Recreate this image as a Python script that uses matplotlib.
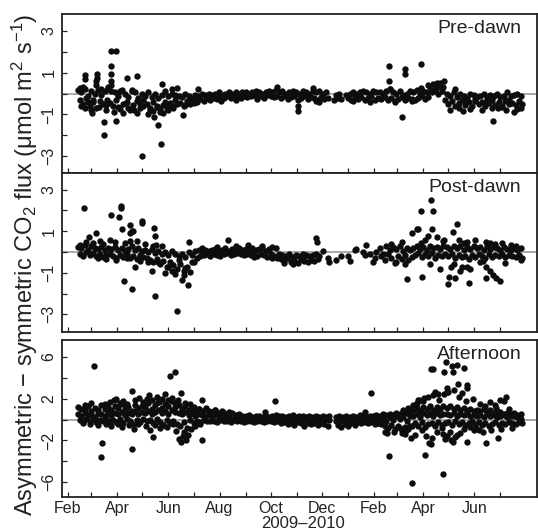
import numpy as np
import matplotlib
matplotlib.use("Agg")
import matplotlib.pyplot as plt

plt.rcParams['font.family'] = ['Liberation Sans', 'DejaVu Sans']
plt.rcParams['mathtext.fontset'] = 'custom'
plt.rcParams['mathtext.rm'] = 'Liberation Sans'
plt.rcParams['mathtext.it'] = 'Liberation Sans:italic'
plt.rcParams['mathtext.default'] = 'regular'
plt.rcParams['axes.unicode_minus'] = True

nan = np.nan
BASE = np.datetime64('2009-02-01')

# ---------------- data (day offsets since 2009-02-01, flux differences) -------------
# upper/lower/middle parts of the dense band, one value every 4 days
hi_days = list(range(12, 541, 4))
lo_days = list(range(14, 543, 4))

predawn_hi = [
    0.15, 0.05, 0.2, -0.1, 0.1, 0.0, 0.15, -0.05, 0.1, 0.2,
    0.1, 0.05, -0.1, 0.15, 0.0, -0.15, 0.1, 0.05, -0.2, 0.0,
    -0.1, 0.05, -0.15, 0.0, -0.2, -0.05, 0.1, -0.1, 0.0, -0.05,
    -0.1, -0.15, 0.0, -0.1, -0.2, -0.05, -0.1, 0.0, -0.05, 0.0,
    -0.05, 0.0, 0.05, -0.05, 0.0, 0.05, 0.0, 0.05, 0.0, 0.05,
    0.05, 0.0, 0.05, 0.1, 0.05, 0.0, 0.05, 0.1, 0.05, 0.15,
    0.05, 0.1, 0.0, 0.05, 0.1, 0.05, 0.0, 0.1, 0.05, 0.0,
    0.1, 0.05, 0.1, 0.0, 0.05, nan, nan, -0.05, 0.0, nan,
    -0.05, 0.0, 0.05, 0.0, 0.05, 0.1, 0.05, 0.0, 0.1, 0.05,
    0.05, 0.0, 0.1, 0.2, 0.05, 0.0, 0.1, -0.05, 0.0, 0.1,
    0.05, 0.15, 0.0, 0.1, 0.05, 0.3, 0.45, 0.35, 0.5, 0.3,
    0.0, -0.1, 0.05, -0.15, 0.0, -0.1, -0.2, 0.0, -0.05, -0.15,
    -0.1, 0.0, -0.2, -0.05, -0.1, 0.0, -0.15, -0.1, 0.05, -0.1,
    -0.05, 0.0, -0.1]
predawn_lo = [
    -0.3, -0.5, -0.2, -0.6, -0.4, -0.7, -0.35, -0.5, -0.8, -0.45,
    -0.6, -0.3, -0.75, -0.5, -0.4, -0.8, -0.55, -0.35, -0.7, -0.6,
    -0.5, -0.8, -0.4, -0.65, -0.9, -0.55, -0.7, -0.45, -0.6, -0.5,
    -0.45, -0.6, -0.35, -0.5, -0.3, -0.4, -0.25, -0.35, -0.2, -0.3,
    -0.2, -0.25, -0.15, -0.2, -0.1, -0.2, -0.15, -0.1, -0.2, -0.1,
    -0.15, -0.1, -0.05, -0.15, -0.1, -0.2, -0.05, -0.1, -0.15, -0.1,
    -0.2, -0.1, -0.25, -0.15, -0.1, -0.3, -0.2, -0.1, -0.25, -0.15,
    -0.2, -0.3, -0.15, -0.25, -0.2, nan, -0.3, -0.2, -0.25, nan,
    -0.2, -0.3, -0.1, -0.25, -0.15, -0.3, -0.2, -0.1, -0.3, -0.2,
    -0.25, -0.15, -0.3, -0.2, -0.35, -0.25, -0.15, -0.3, -0.2, -0.25,
    -0.3, -0.2, -0.1, -0.25, -0.15, 0.05, 0.15, 0.0, 0.1, -0.3,
    -0.5, -0.35, -0.6, -0.45, -0.3, -0.55, -0.4, -0.6, -0.35, -0.5,
    -0.4, -0.6, -0.45, -0.3, -0.55, -0.4, -0.65, -0.35, -0.5, -0.45,
    -0.55, -0.35, -0.5]
predawn_x_days = [
    21, 21, 29, 35, 35, 34, 34, 43, 43, 52, 52, 52, 52, 52, 58, 57, 70, 76, 83, 82,
    88, 103, 108, 111, 112, 124, 130, 137, 155, 249, 275, 275, 292, 383, 383, 384,
    398, 402, 402, 421, 421, 440, 449, 462, 471, 507, 513, 523, 532, 536,
    16, 20, 24, 27, 30, 37, 45, 47, 55, 60, 62, 66, 69, 72, 79, 86, 90, 95, 98, 102,
    106, 110, 113, 116, 119, 121, 126, 128, 140, 145, 150, 48, 40, 14, 18,
    456, 466, 474, 480, 486, 494, 500, 506, 518, 526, 540, 183, 200, 226, 296, 300,
    340, 360, 390, 410, 438, 444, 430]
predawn_x_vals = [
    0.9, 0.7, -0.93, 0.95, 0.75, 0.6, 0.4, -1.35, -2.0, 1.3, 0.95, 0.6, 0.4, 2.05, 2.05,
    -1.3, 0.75, 0.15, 0.85, -0.95, -3.0, -1.1, -1.5, -2.4, 0.45, 0.2, 0.25, -1.05, 0.2,
    0.3, -0.6, -0.85, 0.25, 1.3, 0.6, 0.2, -1.1, 1.15, 0.95, 1.4, 0.25, 0.5, 0.6, 0.2,
    -0.85, -1.3, -0.7, -0.8, -0.9, -0.75,
    -0.6, -0.7, -0.4, -0.8, -0.3, -0.65, -0.55, -0.3, -0.9, -0.65, 0.1, -0.95, -0.45,
    -0.7, -0.8, -0.5, -0.3, -1.0, -0.7, -0.85, -0.6, -0.75, -0.95, -0.4, -0.8, -0.55,
    -0.7, -0.3, -0.55, -0.4, -0.45, 0.3, 0.2, 0.25, 0.3,
    -0.8, -0.7, -0.3, -0.75, -0.25, -0.8, -0.35, -0.7, -0.6, -0.3, -0.7, -0.35, -0.3,
    -0.25, -0.35, -0.4, -0.35, -0.4, -0.4, -0.35, 0.15, 0.3, 0.4]

postdawn_hi = [
    0.25, 0.2, 0.35, 0.1, 0.3, 0.2, 0.15, 0.25, 0.1, 0.2,
    0.15, 0.25, 0.1, 0.2, 0.05, 0.15, 0.3, 0.1, 0.2, 0.05,
    0.1, 0.0, 0.15, -0.05, 0.05, -0.1, 0.0, -0.15, 0.05, -0.1,
    -0.2, -0.1, -0.25, 0.0, -0.15, 0.05, 0.1, 0.0, 0.1, 0.05,
    0.1, 0.15, 0.0, 0.1, 0.2, 0.05, 0.15, 0.1, 0.2, 0.1,
    0.15, 0.05, 0.2, 0.1, 0.15, 0.2, 0.05, 0.15, 0.25, 0.2,
    -0.1, -0.15, -0.2, -0.1, -0.25, -0.15, -0.2, -0.1, -0.15, -0.2,
    -0.15, -0.1, -0.2, 0.05, nan, -0.5, nan, -0.4, nan, nan,
    nan, -0.45, nan, 0.15, nan, 0.0, 0.35, -0.1, -0.5, 0.0,
    0.2, -0.1, 0.3, 0.1, 0.25, 0.15, 0.3, 0.05, 0.2, 0.1,
    0.2, 0.3, 0.15, 0.25, 0.1, 0.3, 0.2, 0.25, 0.15, 0.3,
    0.25, 0.15, 0.3, 0.2, 0.3, 0.1, 0.25, 0.15, 0.3, 0.2,
    0.25, 0.1, 0.3, 0.15, 0.25, 0.2, 0.1, 0.25, 0.15, 0.1,
    0.25, 0.1, 0.2]
postdawn_lo = [
    -0.1, -0.2, 0.0, -0.15, -0.05, -0.2, -0.1, -0.25, -0.15, -0.1,
    -0.2, -0.3, -0.15, -0.25, -0.1, -0.3, -0.2, -0.35, -0.15, -0.25,
    -0.3, -0.4, -0.5, -0.35, -0.6, -0.45, -0.7, -0.5, -0.65, -0.8,
    -0.6, -0.9, -0.7, -0.95, -0.5, -0.3, -0.2, -0.15, -0.1, -0.2,
    -0.1, -0.15, -0.2, -0.1, -0.05, -0.15, -0.1, -0.05, -0.1, -0.15,
    -0.1, -0.15, -0.05, -0.2, -0.1, -0.15, -0.25, -0.1, -0.2, -0.3,
    -0.35, -0.45, -0.3, -0.5, -0.4, -0.55, -0.35, -0.45, -0.5, -0.4,
    -0.45, -0.35, nan, nan, -0.3, nan, nan, nan, -0.2, nan,
    -0.2, nan, 0.1, nan, nan, -0.15, nan, nan, -0.3, nan,
    -0.2, -0.4, -0.1, -0.3, -0.55, -0.2, -0.35, -0.15, -0.4, -0.25,
    -0.15, -0.05, -0.25, -0.1, -0.2, -0.05, -0.3, -0.15, -0.2, -0.1,
    -0.2, -0.1, -0.3, -0.15, -0.25, -0.2, -0.35, -0.15, -0.25, -0.1,
    -0.2, -0.3, -0.1, -0.25, -0.15, -0.2, -0.1, -0.25, -0.15, -0.2,
    -0.25, -0.15, -0.3]
postdawn_x_days = [
    19, 25, 33, 38, 50, 51, 61, 63, 63, 64, 74, 74, 76, 74, 78, 88, 88, 67, 77, 80,
    103, 104, 104, 102, 105, 130, 136, 143, 145, 191, 296, 297, 405, 423, 416, 418,
    411, 421, 433, 436, 429, 434, 421, 459, 464, 449, 453, 455, 462, 478, 457, 470,
    476, 476, 499, 515, 499, 509, 495, 499, 503, 507, 511,
    14, 22, 30, 36, 42, 46, 56, 58, 68, 70, 82, 86, 92, 96, 100, 108, 112, 116, 120,
    124, 128, 132, 138, 140, 148, 160, 178, 200, 215, 222, 232, 244, 258, 268, 280,
    386, 392, 398, 402, 426, 432, 440, 444, 448, 460, 466, 468, 472, 480, 486, 492,
    504, 518, 522, 528, 534, 540]
postdawn_x_vals = [
    2.1, 0.7, 0.9, 0.55, 0.6, 1.8, 1.7, 2.1, 2.2, 1.1, 1.3, 0.9, 1.0, 0.55, 1.0, 1.5,
    1.4, -1.4, -1.8, -0.7, 1.15, 0.75, -2.1, 0.3, 0.35, -2.85, -1.35, -1.6, 0.5, 0.6,
    0.65, 0.5, -1.3, -1.2, 1.1, 1.1, 0.9, 1.95, 2.5, 1.95, 0.75, 1.1, 0.45, 0.95, 1.35,
    0.6, -1.55, -1.2, -1.25, -1.5, -0.7, -0.7, -0.7, 0.5, -1.25, -1.4, 0.5, 0.4,
    -0.45, -0.7, -0.9, -1.1, -1.25,
    0.35, 0.5, 0.45, -0.3, 0.4, -0.35, 0.5, -0.4, 0.45, -0.3, 0.55, -0.45, 0.4, -0.5,
    -0.9, -0.5, 0.3, -1.0, -0.7, -0.9, -1.05, -0.4, -1.1, -0.75, -0.5, 0.2, 0.25, 0.3,
    0.35, -0.25, 0.3, -0.3, -0.55, -0.6, -0.3,
    0.4, -0.5, 0.5, -0.6, 0.6, -0.6, 0.7, -0.8, 0.55, -0.6, 0.6, -0.9, 0.45, -0.8, 0.6,
    -0.5, 0.45, 0.45, -0.55, 0.35, 0.3, -0.4]

afternoon_hi = [
    1.2, 1.0, 0.9, 1.3, 0.8, 1.1, 0.9, 1.4, 1.0, 1.2,
    0.9, 1.3, 1.1, 1.5, 1.0, 1.2, 0.8, 1.4, 1.1, 1.3,
    1.2, 1.6, 1.0, 1.4, 1.7, 1.1, 1.5, 1.3, 1.8, 1.2,
    1.4, 1.0, 1.3, 0.9, 1.1, 0.8, 1.0, 0.7, 0.9, 0.8,
    0.7, 0.9, 0.6, 0.8, 0.5, 0.7, 0.6, 0.4, 0.5, 0.35,
    0.3, 0.4, 0.25, 0.3, 0.35, 0.2, 0.3, 0.25, 0.35, 0.4,
    0.3, 0.35, 0.2, 0.3, 0.4, 0.25, 0.3, 0.35, 0.2, 0.3,
    0.25, 0.35, 0.2, 0.3, 0.25, 0.3, nan, 0.2, 0.3, 0.25,
    0.3, 0.2, 0.35, 0.25, 0.4, 0.3, 0.2, 0.35, 0.3, 0.4,
    0.35, 0.5, 0.4, 0.55, 0.45, 0.6, 0.5, 0.7, 0.6, 0.8,
    0.9, 1.1, 0.8, 1.2, 1.0, 1.3, 0.9, 1.2, 1.0, 1.3,
    1.1, 1.3, 1.0, 1.2, 0.9, 1.1, 0.8, 1.0, 0.8, 0.9,
    0.8, 1.0, 0.7, 0.9, 0.6, 0.8, 0.7, 0.5, 0.6, 0.5,
    0.6, 0.4, 0.5]
afternoon_mid = [
    0.5, 0.3, 0.6, 0.4, 0.5, 0.2, 0.6, 0.5, 0.3, 0.6,
    0.4, 0.6, 0.5, 0.7, 0.4, 0.6, 0.5, 0.8, 0.5, 0.7,
    0.6, 0.8, 0.5, 0.7, 0.9, 0.6, 0.8, 0.5, 0.9, 0.7,
    0.6, 0.5, 0.7, 0.4, 0.6, 0.3, 0.5, 0.4, 0.3, 0.4,
    0.3, 0.4, 0.2, 0.3, 0.2, 0.3, 0.1, 0.2, 0.15, 0.1,
    0.1, 0.15, 0.05, 0.1, 0.15, 0.0, 0.1, 0.05, 0.1, 0.15,
    0.0, 0.1, -0.1, 0.05, 0.0, -0.1, 0.05, 0.0, -0.05, 0.1,
    -0.05, 0.1, 0.0, -0.1, 0.05, 0.0, nan, -0.1, 0.0, -0.15,
    0.0, -0.1, 0.1, 0.0, 0.05, -0.05, 0.0, 0.1, 0.0, 0.05,
    0.0, 0.1, -0.1, 0.2, 0.0, 0.3, 0.1, 0.2, -0.1, 0.3,
    0.3, 0.5, 0.2, 0.6, 0.4, 0.5, 0.3, 0.6, 0.4, 0.5,
    0.5, 0.4, 0.6, 0.3, 0.5, 0.4, 0.5, 0.3, 0.4, 0.3,
    0.4, 0.2, 0.5, 0.3, 0.4, 0.2, 0.3, 0.4, 0.2, 0.3,
    0.3, 0.2, 0.1]
afternoon_lo = [
    0.0, -0.2, 0.1, -0.1, 0.05, -0.25, 0.0, -0.15, 0.1, -0.1,
    0.0, -0.2, 0.1, -0.3, 0.05, -0.15, -0.4, 0.0, -0.2, 0.1,
    -0.1, 0.0, -0.3, 0.1, -0.2, -0.5, 0.0, -0.3, -0.1, -0.4,
    -0.6, -0.2, -0.8, 0.0, -0.3, -0.1, -0.2, 0.0, -0.15, -0.1,
    -0.1, -0.2, 0.0, -0.15, -0.1, -0.2, -0.05, -0.15, -0.1, -0.2,
    -0.15, -0.1, -0.2, -0.15, -0.1, -0.2, -0.15, -0.1, -0.2, -0.15,
    -0.3, -0.2, -0.4, -0.3, -0.5, -0.25, -0.35, -0.6, -0.3, -0.45,
    -0.35, -0.5, -0.3, -0.4, -0.6, nan, nan, -0.5, -0.7, -0.4,
    -0.6, -0.3, -0.5, -0.2, -0.35, -0.25, -0.3, -0.2, -0.4, -0.3,
    -0.4, -0.6, -0.8, -0.5, -0.9, -0.6, -1.0, -0.7, -0.9, -0.6,
    -0.3, -0.6, -0.2, -0.7, -0.4, -0.3, -0.6, -0.2, -0.5, -0.3,
    -0.2, -0.5, -0.1, -0.4, -0.2, -0.5, -0.3, -0.1, -0.4, -0.2,
    -0.5, -0.3, -0.6, -0.4, -0.2, -0.5, -0.3, -0.4, -0.2, -0.3,
    -0.4, -0.2, -0.3]
afternoon_x_days = [
    31, 41, 39, 77, 101, 160, 76, 58, 122, 128, 160, 247, 235, 361, 354, 383, 378, 381,
    389, 398, 402, 409, 410, 426, 416, 418, 424, 433, 436, 451, 449, 459, 458, 464, 473,
    454, 452, 465, 476, 476, 441, 436, 433, 431, 447, 447, 452, 457, 459, 464, 476, 484,
    490, 499, 513, 503, 509, 515, 523, 520,
    20, 28, 44, 50, 55, 62, 66, 70, 80, 85, 90, 94, 97, 100, 106, 109, 112, 116, 119,
    124, 127, 131, 135, 140, 146, 150, 156, 165, 175, 185,
    18, 26, 36, 46, 52, 60, 64, 73, 79, 84, 93, 98, 104, 110, 114, 118, 125, 129, 133,
    135, 137, 138, 141, 143, 147, 152, 158,
    396, 400, 403, 406, 408, 412, 414, 419, 422, 425, 427, 430, 434, 438, 440, 443, 446,
    449, 450, 452, 456, 460, 462, 466, 468, 470, 472, 475, 480, 483, 487, 492, 495, 498,
    505, 511, 517, 526, 530]
afternoon_x_vals = [
    5.1, -2.2, -3.6, -2.85, -1.7, -2.0, 2.75, 2.0, 4.2, 4.5, 1.85, 1.8, 0.7, 2.55, 0.7,
    -3.45, -1.2, -1.25, -1.2, -1.3, -1.35, -1.8, -6.1, -3.35, 1.6, 1.9, 1.8, 4.85, 4.85,
    5.5, 4.55, 4.55, 5.15, 5.2, 4.95, 2.65, 2.6, 3.4, 3.3, 3.0, 2.4, 2.3, -2.3, -2.2,
    -5.2, -1.4, -1.6, -2.0, -2.1, -1.5, -2.1, -1.0, -1.0, -2.2, -1.8, 1.7, 1.4, 1.9,
    2.2, 1.8,
    1.4, 1.6, 1.5, 1.7, 1.9, 1.6, 1.8, 1.5, 1.9, 2.1, 1.7, 2.0, 2.3, 1.9, 2.2, 1.7, 2.0,
    2.4, 1.9, 2.1, 1.7, 1.9, 2.5, 1.6, 1.5, 1.2, 1.0, 1.1, 0.9, 0.7,
    -0.3, -0.4, -0.5, -0.4, -0.6, -0.4, -0.7, -0.5, -0.9, -0.4, -0.6, -1.0, -0.5, -0.8,
    -0.5, -0.7, -0.4, -1.1, -1.9, -2.1, -1.6, -1.2, -2.0, -1.5, -0.9, -0.6, -0.4,
    -0.8, 0.9, -1.0, 1.1, -0.6, 1.4, -1.5, 1.9, -1.0, 2.1, -1.6, 2.2, -1.8, 2.6, -1.2,
    1.9, -0.8, 2.4, -1.9, 3.0, -1.2, 2.8, -1.7, 2.2, -1.3, 2.5, -0.9, 1.8, -0.7, 2.0,
    -0.8, 1.5, -1.2, 1.3, -1.0, 1.1, -0.9, 1.0, -0.8]

panel_titles = ['Pre-dawn', 'Post-dawn', 'Afternoon']
month_ticks = ['2009-02', '2009-03', '2009-04', '2009-05', '2009-06', '2009-07',
               '2009-08', '2009-09', '2009-10', '2009-11', '2009-12', '2010-01',
               '2010-02', '2010-03', '2010-04', '2010-05', '2010-06', '2010-07']
month_labels = ['Feb', '', 'Apr', '', 'Jun', '', 'Aug', '', 'Oct', '', 'Dec', '',
                'Feb', '', 'Apr', '', 'Jun', '']
small_yticks = [-3, -2, -1, 0, 1, 2, 3]
small_ylabels = ['\u22123', '', '\u22121', '', '1', '', '3']
big_yticks = [-6, -4, -2, 0, 2, 4, 6]
big_ylabels = ['\u22126', '', '\u22122', '', '2', '', '6']

# ---------------- figure -----------------
W, H = 538, 530
fig = plt.figure(figsize=(W / 100, H / 100), dpi=100)

def fx(px):
    return px / W

def fy(py):
    return 1 - py / H

left, right = 62, 536.5
boxes = [(14, 173), (173, 332), (340, 497)]
ylims = [(-3.8, 3.8), (-3.85, 3.8), (-7.4, 7.6)]

def to_dates(days):
    return BASE + np.array(days, dtype='timedelta64[D]')

panels = [
    (predawn_hi, predawn_lo, None, predawn_x_days, predawn_x_vals),
    (postdawn_hi, postdawn_lo, None, postdawn_x_days, postdawn_x_vals),
    (afternoon_hi, afternoon_lo, afternoon_mid, afternoon_x_days, afternoon_x_vals),
]

tick_dates = np.array([np.datetime64(m + '-01') for m in month_ticks])
xlim = (BASE - np.timedelta64(7, 'D'), BASE + np.timedelta64(559, 'D'))

for i, (hi, lo, mid, xd, xv) in enumerate(panels):
    top, bot = boxes[i]
    ax = fig.add_axes([fx(left), fy(bot), fx(right - left), (bot - top) / H])
    ax.axhline(0, color='#9a9a9a', lw=1.2, zorder=1)
    kw = dict(s=21, color='#0d0d0d', linewidths=0, zorder=3)
    ax.scatter(to_dates(hi_days), hi, **kw)
    ax.scatter(to_dates(lo_days), lo, **kw)
    if mid is not None:
        ax.scatter(to_dates(hi_days), mid, **kw)
    ax.scatter(to_dates(xd), xv, **kw)
    ax.set_xlim(xlim)
    ax.set_ylim(ylims[i])
    ax.set_xticks(tick_dates)
    if i == 2:
        ax.set_xticklabels(month_labels)
        ax.set_yticks(big_yticks)
        ax.set_yticklabels(big_ylabels)
    else:
        ax.set_xticklabels([''] * len(tick_dates))
        ax.set_yticks(small_yticks)
        ax.set_yticklabels(small_ylabels)
    ax.tick_params(axis='both', direction='in', length=3.5, width=0.9,
                   color='#222222', labelsize=11.5, labelcolor='#222222')
    ax.tick_params(axis='x', pad=3)
    ax.tick_params(axis='y', pad=4, labelrotation=90)
    for lab in ax.get_yticklabels():
        lab.set_va('center')
    for sp in ax.spines.values():
        sp.set_color('#222222')
        sp.set_linewidth(1.3)
    ax.text(0.968, 0.91, panel_titles[i], transform=ax.transAxes, ha='right',
            va='center', fontsize=14, color='#222222')

fig.text(fx(25), fy(265), 'Asymmetric \u2212 symmetric CO$_2$ flux (\u03bcmol m$^2$ s$^{-1}$)',
         rotation=90, ha='center', va='center', fontsize=17, color='#222222')
fig.text(fx(303), fy(516), '2009\u20132010', ha='center', va='top', fontsize=12,
         color='#222222')

fig.savefig('out.png', dpi=100)
